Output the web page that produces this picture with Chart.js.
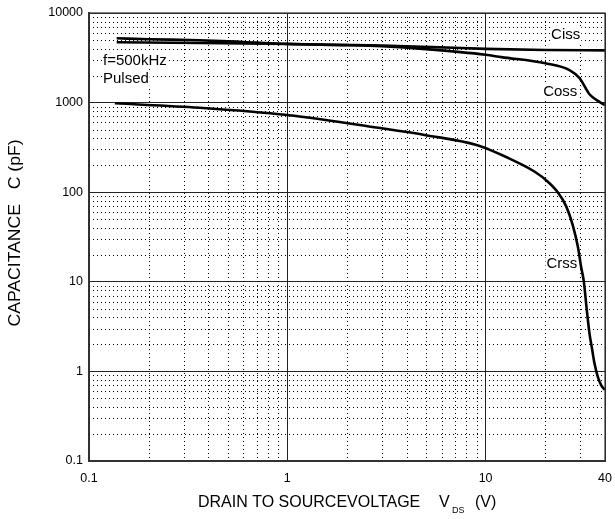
<!DOCTYPE html>
<html>
<head>
<meta charset="utf-8">
<script src="https://cdn.jsdelivr.net/npm/chart.js@4.4.1/dist/chart.umd.min.js"></script>
<style>
  html, body { margin: 0; padding: 0; background: #fff; }
  #wrap { width: 615px; height: 519px; }
</style>
</head>
<body>
<div id="wrap"><canvas id="capChart" width="615" height="519"></canvas></div>
<script>
// Capacitance vs VDS (V, pF)
const cissV = [0.138, 0.36, 1, 2, 3, 5.4, 10, 20, 40];
const cissC = [4720, 4625, 4500, 4400, 4330, 4165, 3980, 3870, 3830];

const cossV = [0.138, 0.2, 0.36, 0.6, 1, 2, 3, 5, 10, 12, 20, 26.5, 29.8, 33.4, 37.5, 40];
const cossC = [5220, 5100, 4960, 4750, 4520, 4380, 4250, 3950, 3420, 3220, 2750, 2310, 1870, 1240, 1020, 940];

const crssV = [0.135, 0.36, 1, 3, 5, 9, 13.7, 17.7, 20.6, 23.1, 25.5, 27.5, 29.2, 30.3, 31.3, 32.3, 33.4, 34.4, 35.4, 36.8, 38.3, 40];
const crssC = [982, 877, 727, 517, 433, 336, 228, 169, 131, 100, 69.5, 43, 24.6, 14.7, 10, 5.1, 2.66, 1.8, 1.23, 0.87, 0.7, 0.62];

const xTicks = [0.1, 1, 10, 40];
const yTicks = [0.1, 1, 10, 100, 1000, 10000];

const FONT = '"Liberation Sans", Arial, Helvetica, sans-serif';

// in-plot notes, anchored in data units
const notes = [
  { text: 'Ciss', v: 30, c: 5680, align: 'right' },
  { text: 'Coss', v: 29, c: 1312, align: 'right' },
  { text: 'Crss', v: 29, c: 15.8, align: 'right' },
  { text: 'f=500kHz', v: 0.1176, c: 2950, align: 'left' },
  { text: 'Pulsed', v: 0.1176, c: 1858, align: 'left' }
];

function toPoints(xs, ys) {
  return xs.map((x, i) => ({ x: x, y: ys[i] }));
}

// 2..9 of each decade inside (min, max)
function logMinors(min, max) {
  const out = [];
  for (let d = 0.1; d < max; d *= 10) {
    for (let k = 2; k <= 9; k++) {
      const v = +(k * d).toPrecision(3);
      if (v > min && v < max) out.push(v);
    }
  }
  return out;
}

const datasheet = {
  id: 'datasheet',
  beforeDatasetsDraw(chart) {
    const { ctx, chartArea: a, scales: { x, y } } = chart;
    ctx.save();
    ctx.strokeStyle = '#000';
    ctx.lineWidth = 1;
    ctx.setLineDash([1, 3]);
    logMinors(0.1, 40).forEach(v => {
      const px = Math.round(x.getPixelForValue(v)) + 0.5;
      ctx.beginPath();
      ctx.moveTo(px, a.top);
      ctx.lineTo(px, a.bottom);
      ctx.stroke();
    });
    logMinors(0.1, 10000).forEach(v => {
      const py = Math.round(y.getPixelForValue(v)) + 0.5;
      ctx.beginPath();
      ctx.moveTo(a.left, py);
      ctx.lineTo(a.right, py);
      ctx.stroke();
    });
    ctx.setLineDash([]);

    ctx.font = '15px ' + FONT;
    ctx.textBaseline = 'middle';
    notes.forEach(n => {
      const w = ctx.measureText(n.text).width;
      const px = x.getPixelForValue(n.v);
      const py = y.getPixelForValue(n.c);
      const left = n.align === 'right' ? px - w : px;
      ctx.fillStyle = '#fff';
      ctx.fillRect(left - 1, py - 8, w + 2, 16);
      ctx.fillStyle = '#000';
      ctx.textAlign = 'left';
      ctx.fillText(n.text, left, py);
    });
    ctx.restore();
  },
  afterDraw(chart) {
    const { ctx, chartArea: a } = chart;
    ctx.save();
    ctx.strokeStyle = '#333';
    ctx.lineWidth = 1.2;
    ctx.strokeRect(a.left, a.top, a.right - a.left, a.bottom - a.top);

    ctx.fillStyle = '#000';
    ctx.font = '16px ' + FONT;
    ctx.textAlign = 'left';
    ctx.textBaseline = 'alphabetic';
    ctx.fillText('DRAIN TO SOURCEVOLTAGE', 198, 507);
    ctx.fillText('V', 439, 507);
    ctx.fillText('(V)', 475, 507);
    ctx.font = '9px ' + FONT;
    ctx.fillText('DS', 452, 513);

    // y title is a bit stretched along its length in the original
    ctx.font = '16px ' + FONT;
    ctx.translate(16, 233);
    ctx.rotate(-Math.PI / 2);
    ctx.scale(1.1, 1);
    ctx.textAlign = 'center';
    ctx.textBaseline = 'middle';
    ctx.fillText('CAPACITANCE   C (pF)', 0, 0);
    ctx.restore();
  }
};

const line = { borderColor: '#000', borderWidth: 2.6, pointRadius: 0, cubicInterpolationMode: 'monotone', fill: false };

new Chart(document.getElementById('capChart'), {
  type: 'line',
  data: {
    datasets: [
      Object.assign({ label: 'Ciss', data: toPoints(cissV, cissC) }, line),
      Object.assign({ label: 'Coss', data: toPoints(cossV, cossC) }, line),
      Object.assign({ label: 'Crss', data: toPoints(crssV, crssC) }, line)
    ]
  },
  options: {
    responsive: false,
    animation: false,
    layout: { padding: { top: 13, right: 10, left: 0, bottom: 0 } },
    plugins: { legend: { display: false }, tooltip: { enabled: false } },
    scales: {
      x: {
        type: 'logarithmic',
        min: 0.1,
        max: 40,
        afterBuildTicks: s => { s.ticks = xTicks.map(v => ({ value: v })); },
        afterFit: s => { s.height = 58; s.paddingLeft = 0; s.paddingRight = 0; },
        grid: { color: '#222', lineWidth: 1, drawTicks: false },
        border: { color: '#333', width: 2 },
        ticks: {
          autoSkip: false, maxRotation: 0, padding: 10, color: '#000',
          font: { family: FONT, size: 12.5 },
          callback: v => String(v)
        }
      },
      y: {
        type: 'logarithmic',
        min: 0.1,
        max: 10000,
        afterBuildTicks: s => { s.ticks = yTicks.map(v => ({ value: v })); },
        afterFit: s => { s.width = 89; s.paddingTop = 0; s.paddingBottom = 0; },
        grid: { color: '#222', lineWidth: 1, drawTicks: false },
        border: { color: '#333', width: 2 },
        ticks: {
          autoSkip: false, padding: 6, color: '#000',
          font: { family: FONT, size: 12.5 },
          callback: v => String(v)
        }
      }
    }
  },
  plugins: [datasheet]
});
</script>
</body>
</html>
